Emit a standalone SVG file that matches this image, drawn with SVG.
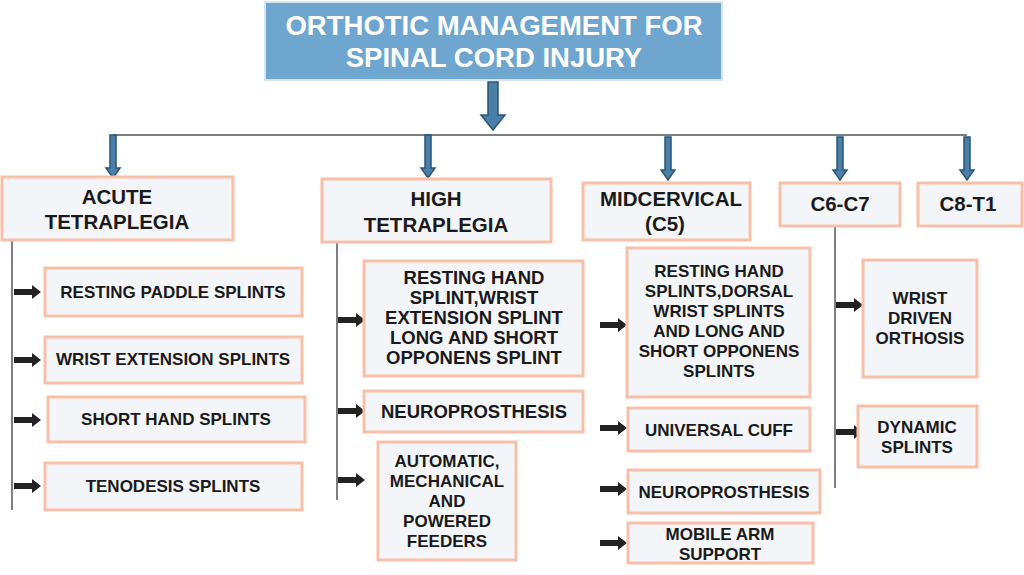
<svg xmlns="http://www.w3.org/2000/svg" width="1024" height="575" viewBox="0 0 1024 575">
<style>
.b{fill:#f3f5f8;stroke:#f8c0a8;stroke-width:3}
.t{font-family:"Liberation Sans",Arial,sans-serif;font-weight:bold;fill:#1a1a1a;text-anchor:middle}
.s{font-size:17px}.l{font-size:18.5px}.h{font-size:20.5px}
.ln{stroke:#555;stroke-width:1.5;fill:none}
.bl{fill:#4a7fa8;stroke:#2a5575;stroke-width:1.5}
</style>
<defs>
<path id="ra" d="M0,-3 L18,-3 L18,-7 L27,0 L18,7 L18,3 L0,3 Z" fill="#222"/>
<path id="da" d="M-3,0 L3,0 L3,33 L7,33 L0,43 L-7,33 L-3,33 Z" class="bl"/>
</defs>
<g id="title">
<rect x="265" y="2" width="457" height="78" fill="#6fa6cf" stroke="#d8e4ee" stroke-width="2"/>
<text class="t" x="494" y="35" font-size="27.5" style="fill:#fff">ORTHOTIC MANAGEMENT FOR</text>
<text class="t" x="494" y="67" font-size="27.5" style="fill:#fff">SPINAL CORD INJURY</text>
</g>
<g id="connectors">
<path d="M488,82 L498,82 L498,115 L505,115 L493,130 L481,115 L488,115 Z" class="bl"/>
<line class="ln" x1="113" y1="135" x2="967" y2="135"/>
<use href="#da" x="113" y="135"/><use href="#da" x="428" y="135"/><use href="#da" x="668" y="137"/><use href="#da" x="840" y="137"/><use href="#da" x="967" y="137"/>
<line class="ln" x1="12" y1="240" x2="12" y2="510"/>
<line class="ln" x1="337" y1="242" x2="337" y2="500"/>
<line class="ln" x1="835" y1="226" x2="835" y2="488"/>
<use href="#ra" x="14" y="292"/><use href="#ra" x="14" y="360"/><use href="#ra" x="14" y="420"/><use href="#ra" x="14" y="486"/>
<use href="#ra" x="338" y="320"/><use href="#ra" x="338" y="411"/><use href="#ra" x="338" y="480"/>
<use href="#ra" x="600" y="325"/><use href="#ra" x="600" y="428"/><use href="#ra" x="600" y="489"/><use href="#ra" x="600" y="543"/>
<use href="#ra" x="836" y="305"/><use href="#ra" x="836" y="432"/>
</g>
<g id="acute"><rect class="b" x="2" y="177" width="231" height="63"/><text class="t h" x="117" y="204">ACUTE</text><text class="t h" x="117" y="229">TETRAPLEGIA</text></g>
<g id="high"><rect class="b" x="322" y="179" width="229" height="63"/><text class="t h" x="436" y="206">HIGH</text><text class="t h" x="436" y="232">TETRAPLEGIA</text></g>
<g id="mid"><rect class="b" x="583" y="183" width="167" height="57"/><text class="t h" x="671" y="206">MIDCERVICAL</text><text class="t h" x="665" y="231">(C5)</text></g>
<g id="c6c7"><rect class="b" x="780" y="183" width="120" height="43"/><text class="t h" x="840" y="211">C6-C7</text></g>
<g id="c8t1"><rect class="b" x="918" y="183" width="104" height="43"/><text class="t h" x="968" y="211">C8-T1</text></g>
<g id="a1"><rect class="b" x="45" y="268" width="257" height="48"/><text class="t s" x="173" y="298">RESTING PADDLE SPLINTS</text></g>
<g id="a2"><rect class="b" x="45" y="337" width="257" height="46"/><text class="t s" x="173" y="365">WRIST EXTENSION SPLINTS</text></g>
<g id="a3"><rect class="b" x="48" y="397" width="257" height="45"/><text class="t s" x="176" y="425">SHORT HAND SPLINTS</text></g>
<g id="a4"><rect class="b" x="45" y="463" width="257" height="47"/><text class="t s" x="173" y="492">TENODESIS SPLINTS</text></g>
<g id="h1"><rect class="b" x="364" y="261" width="219" height="115"/>
<text class="t l" x="474" y="284">RESTING HAND</text><text class="t l" x="474" y="304">SPLINT,WRIST</text><text class="t l" x="474" y="324">EXTENSION SPLINT</text><text class="t l" x="474" y="344">LONG AND SHORT</text><text class="t l" x="474" y="364">OPPONENS SPLINT</text></g>
<g id="h2"><rect class="b" x="364" y="391" width="219" height="41"/><text class="t l" x="474" y="418">NEUROPROSTHESIS</text></g>
<g id="h3"><rect class="b" x="378" y="442" width="138" height="118"/>
<text class="t s" x="447" y="467">AUTOMATIC,</text><text class="t s" x="447" y="487">MECHANICAL</text><text class="t s" x="447" y="507">AND</text><text class="t s" x="447" y="527">POWERED</text><text class="t s" x="447" y="547">FEEDERS</text></g>
<g id="m1"><rect class="b" x="627" y="248" width="183" height="149"/>
<text class="t s" x="719" y="277">RESTING HAND</text><text class="t s" x="719" y="297">SPLINTS,DORSAL</text><text class="t s" x="719" y="317">WRIST SPLINTS</text><text class="t s" x="719" y="337">AND LONG AND</text><text class="t s" x="719" y="357">SHORT OPPONENS</text><text class="t s" x="719" y="377">SPLINTS</text></g>
<g id="m2"><rect class="b" x="628" y="408" width="182" height="43"/><text class="t s" x="719" y="436">UNIVERSAL CUFF</text></g>
<g id="m3"><rect class="b" x="628" y="470" width="192" height="43"/><text class="t s" x="724" y="498">NEUROPROSTHESIS</text></g>
<g id="m4"><rect class="b" x="628" y="523" width="185" height="40"/><text class="t s" x="720" y="540">MOBILE ARM</text><text class="t s" x="720" y="560">SUPPORT</text></g>
<g id="c1"><rect class="b" x="863" y="260" width="114" height="117"/><text class="t s" x="920" y="304">WRIST</text><text class="t s" x="920" y="324">DRIVEN</text><text class="t s" x="920" y="344">ORTHOSIS</text></g>
<g id="c2"><rect class="b" x="858" y="406" width="119" height="61"/><text class="t s" x="917" y="433">DYNAMIC</text><text class="t s" x="917" y="453">SPLINTS</text></g>
</svg>
